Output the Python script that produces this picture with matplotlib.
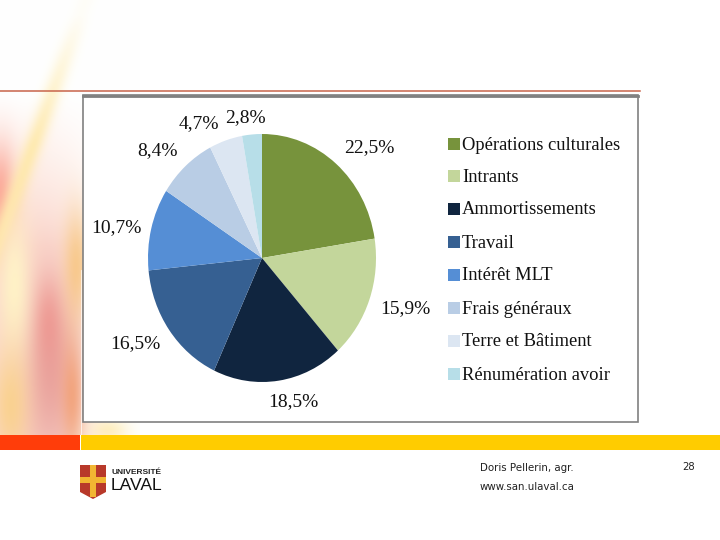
import numpy as np
import matplotlib
matplotlib.use("Agg")
import matplotlib.pyplot as plt
from matplotlib.patches import Rectangle, Polygon

# Chart data
categories = ["Opérations culturales", "Intrants", "Ammortissements", "Travail",
              "Intérêt MLT", "Frais généraux", "Terre et Bâtiment", "Rénumération avoir"]
values = [22.5, 15.9, 18.5, 16.5, 10.7, 8.4, 4.7, 2.8]
pct_labels = ["22,5%", "15,9%", "18,5%", "16,5%", "10,7%", "8,4%", "4,7%", "2,8%"]
colors = ["#77933C", "#C3D69B", "#10253F", "#366092",
          "#558ED5", "#B9CDE5", "#DCE6F2", "#B7DEE8"]

W, H = 720, 540
fig = plt.figure(figsize=(7.2, 5.4), dpi=100)
bg = fig.add_axes([0, 0, 1, 1])
bg.set_xlim(0, W)
bg.set_ylim(H, 0)
bg.axis("off")


def make_background():
    # soft coloured streaks of the slide template, left side
    yy, xx = np.mgrid[0:435, 0:140].astype(float)
    img = np.ones((435, 140, 3))

    def blend(strength, color):
        strength = np.clip(strength, 0, 1)
        for i in range(3):
            img[:, :, i] = img[:, :, i] * (1 - strength) + color[i] * strength

    def blob(x0, y0, sx, sy):
        return np.exp(-((xx - x0) / sx) ** 2 - ((yy - y0) / sy) ** 2)

    # pink wash over the lower left, red edge streak
    blend(0.55 * np.clip((yy - 95) / 150, 0, 1) * np.exp(-(xx / 85.0) ** 4), (0.98, 0.74, 0.66))
    blend(0.8 * blob(0, 195, 16, 50), (0.98, 0.58, 0.52))
    # pink body, lower middle
    blend(0.9 * blob(50, 370, 30, 95), (0.91, 0.62, 0.60))
    blend(0.5 * blob(48, 320, 14, 40), (0.93, 0.52, 0.50))
    blend(0.7 * blob(72, 395, 11, 55), (0.95, 0.60, 0.40))
    # second orange streak coming down to the frame
    blend(0.75 * blob(76, 265, 13, 55), (0.97, 0.76, 0.46))
    # yellow diagonal streak, top right to bottom left
    centre = 85 - yy * 0.36
    blend(np.exp(-((xx - centre) / 10.0) ** 2) * np.clip(yy / 180, 0.08, 0.8), (1.0, 0.91, 0.64))
    # pale yellow column, warmer at the foot
    blend(0.9 * blob(14, 285, 16, 75), (1.0, 0.96, 0.78))
    blend(0.8 * blob(10, 405, 18, 55), (0.98, 0.82, 0.52))
    # pale yellow under the frame
    blend(0.6 * blob(108, 430, 20, 12), (1.0, 0.90, 0.60))
    return img


bg.imshow(make_background(), extent=(0, 140, 435, 0), aspect="auto", zorder=0)
bg.set_xlim(0, W)
bg.set_ylim(H, 0)

# Template rules and bands
bg.plot([0, 640], [90.5, 90.5], color="#C8644A", lw=1.1, zorder=1)
bg.plot([80.5, 80.5], [270, 435], color="white", lw=0.6, alpha=0.8, zorder=1)
bg.add_patch(Rectangle((0, 435), 80, 15, fc="#FF3D0A", ec="none", zorder=1))
bg.add_patch(Rectangle((81, 435), 639, 15, fc="#FFCC00", ec="none", zorder=1))

# Picture frame holding the chart
bg.add_patch(Rectangle((83, 95), 555, 327, fc="white", ec="#808080", lw=1.2, zorder=2))
bg.plot([83, 638], [95.5, 95.5], color="#808080", lw=2, zorder=2)

# Pie, slightly stretched vertically like the pasted picture
cx, cy, rx, ry = 262, 258, 114, 124
pie_ax = fig.add_axes([(cx - rx) / W, 1 - (cy + ry) / H, 2 * rx / W, 2 * ry / H])
pie_ax.pie(values, colors=colors, startangle=90, counterclock=False, radius=1,
           wedgeprops={"linewidth": 0})
pie_ax.set_aspect("auto")
pie_ax.set_xlim(-1, 1)
pie_ax.set_ylim(-1, 1)

# Percent labels
serif = "Liberation Serif"
label_xy = [(369, 148), (405, 309), (293, 402), (135, 344),
            (116, 228), (157, 151), (199, 124), (245, 118)]
for txt, (x, y) in zip(pct_labels, label_xy):
    bg.text(x, y, txt, family=serif, fontsize=14, color="#111111",
            ha="center", va="center", zorder=3)

# Legend
legend_y = [144, 176, 209, 242, 275, 308, 341, 374]
for name, col, y in zip(categories, colors, legend_y):
    bg.add_patch(Rectangle((448, y - 6), 12, 12, fc=col, ec="none", zorder=3))
    bg.text(462, y + 1, name, family=serif, fontsize=13.3, color="#111111",
            ha="left", va="center", zorder=3)

# Footer
bg.text(480, 468, "Doris Pellerin, agr.", family="DejaVu Sans", fontsize=7.4,
        color="#222222", va="center")
bg.text(480, 487, "www.san.ulaval.ca", family="DejaVu Sans", fontsize=7.4,
        color="#222222", va="center")
bg.text(682, 467, "28", family="DejaVu Sans", fontsize=7.2, color="#222222", va="center")

# University logo: shield and wordmark
bg.add_patch(Polygon([(80, 465), (106, 465), (106, 492), (93, 499), (80, 492)],
                     fc="#B8392A", ec="none", zorder=2))
bg.add_patch(Rectangle((90, 465), 6, 32, fc="#F2B632", ec="none", zorder=3))
bg.add_patch(Rectangle((80, 477), 26, 6, fc="#F2B632", ec="none", zorder=3))
bg.text(111, 472, "UNIVERSITÉ", family="Liberation Sans", fontsize=6.0,
        weight="bold", color="#222222", va="center")
bg.text(110.5, 485, "LAVAL", family="Liberation Sans", fontsize=12.6,
        color="#111111", va="center")

fig.savefig("out.png", dpi=100)
